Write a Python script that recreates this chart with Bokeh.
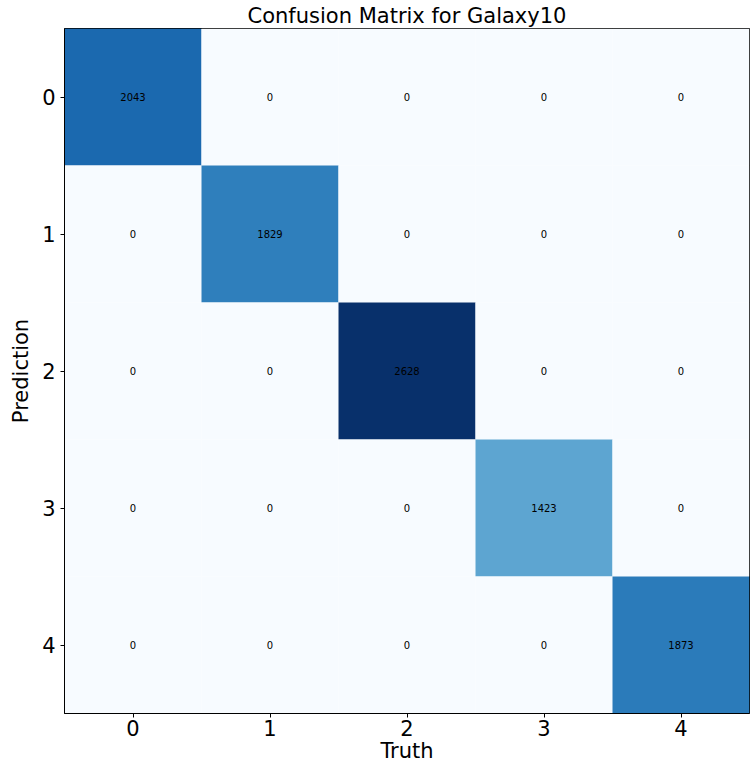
from bokeh.plotting import figure
from bokeh.models import LinearColorMapper, ColumnDataSource, FixedTicker
from bokeh.palettes import Blues256
from bokeh.embed import file_html
from bokeh.resources import INLINE
from bokeh.core.properties import value

classes = [0, 1, 2, 3, 4]
diag_counts = [2043, 1829, 2628, 1423, 1873]

truth, pred, counts = [], [], []
for pi in classes:
    for ti in classes:
        truth.append(ti)
        pred.append(pi)
        counts.append(diag_counts[pi] if pi == ti else 0)

src = ColumnDataSource(dict(truth=truth, pred=pred, count=counts,
                            label=[str(c) for c in counts]))

mapper = LinearColorMapper(palette=list(reversed(Blues256)), low=0, high=max(counts))

p = figure(width=752, height=765, output_backend="svg", toolbar_location=None,
           x_range=(-0.5, 4.5), y_range=(4.5, -0.5),
           min_border_left=64, min_border_right=3, min_border_top=28, min_border_bottom=48)

p.rect(x="truth", y="pred", width=1, height=1, source=src,
       fill_color={"field": "count", "transform": mapper}, line_color=None)
p.text(x="truth", y="pred", text="label", source=src, text_align="center",
       text_baseline="middle", text_font_size="10px", text_color="black",
       text_font=value("DejaVu Sans"))

p.title.text = "Confusion Matrix for Galaxy10"
p.title.align = "center"
p.title.text_font = "DejaVu Sans"
p.title.text_font_size = "21px"
p.title.text_font_style = "normal"
p.title.text_color = "black"
p.title.standoff = 1

for ax in (p.xaxis, p.yaxis):
    ax.ticker = FixedTicker(ticks=classes)
    ax.major_label_text_font = "DejaVu Sans"
    ax.major_label_text_font_size = "21px"
    ax.axis_label_text_font = "DejaVu Sans"
    ax.axis_label_text_font_size = "21px"
    ax.axis_label_text_font_style = "normal"
    ax.axis_label_text_color = "black"
    ax.minor_tick_line_color = None
    ax.major_tick_out = 4
    ax.major_tick_in = 0
    ax.axis_line_color = "black"
    ax.major_tick_line_color = "black"
    ax.major_label_text_color = "black"

p.xaxis.major_label_standoff = 2
p.xaxis.axis_label = "Truth"
p.yaxis.axis_label = "Prediction"
p.xaxis.axis_label_standoff = 0
p.yaxis.axis_label_standoff = 6
p.xgrid.grid_line_color = None
p.ygrid.grid_line_color = None
p.outline_line_color = "black"
p.outline_line_alpha = 1
p.background_fill_color = "white"

open("out.html", "w").write(file_html(p, INLINE))
